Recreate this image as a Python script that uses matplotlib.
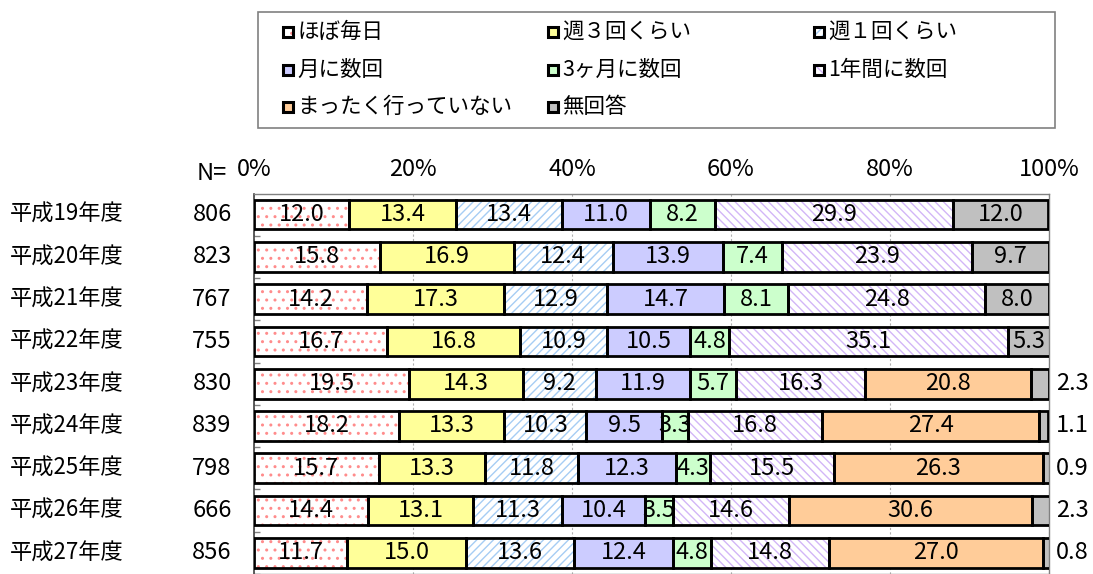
import numpy as np
import matplotlib
matplotlib.use('Agg')
import matplotlib.pyplot as plt
from matplotlib.patches import Rectangle

# データ
years = ['平成19年度', '平成20年度', '平成21年度', '平成22年度', '平成23年度',
         '平成24年度', '平成25年度', '平成26年度', '平成27年度']
n_values = [806, 823, 767, 755, 830, 839, 798, 666, 856]

categories = ['ほぼ毎日', '週３回くらい', '週１回くらい', '月に数回', '3ヶ月に数回',
              '1年間に数回', 'まったく行っていない', '無回答']
daily = [12.0, 15.8, 14.2, 16.7, 19.5, 18.2, 15.7, 14.4, 11.7]
week3 = [13.4, 16.9, 17.3, 16.8, 14.3, 13.3, 13.3, 13.1, 15.0]
week1 = [13.4, 12.4, 12.9, 10.9, 9.2, 10.3, 11.8, 11.3, 13.6]
monthly = [11.0, 13.9, 14.7, 10.5, 11.9, 9.5, 12.3, 10.4, 12.4]
quarterly = [8.2, 7.4, 8.1, 4.8, 5.7, 3.3, 4.3, 3.5, 4.8]
yearly = [29.9, 23.9, 24.8, 35.1, 16.3, 16.8, 15.5, 14.6, 14.8]
never = [np.nan, np.nan, np.nan, np.nan, 20.8, 27.4, 26.3, 30.6, 27.0]
no_answer = [12.0, 9.7, 8.0, 5.3, 2.3, 1.1, 0.9, 2.3, 0.8]

series = [daily, week3, week1, monthly, quarterly, yearly, never, no_answer]
tick_vals = [0, 20, 40, 60, 80, 100]

# 塗り (fill, hatch, hatch colour)
styles = [
    ('white', '..', '#ff8c8c'),
    ('#ffff99', None, None),
    ('white', '////', '#a6cdf4'),
    ('#ccccff', None, None),
    ('#ccffcc', None, None),
    ('white', '\\\\\\\\', '#d2b6f7'),
    ('#ffcc99', None, None),
    ('#c0c0c0', None, None),
]

NUM_FONT = ['Noto Sans CJK JP', 'DejaVu Sans']
JP_FONT = ['Noto Sans CJK JP', 'DejaVu Sans']
plt.rcParams['hatch.linewidth'] = 1.0

W, H = 1093, 574
fig = plt.figure(figsize=(W / 100, H / 100), dpi=100)


def fx(px):
    return px / W


def fy(py):
    return 1 - py / H


ax = fig.add_axes([fx(254), 0, fx(1049) - fx(254), fy(194)])
y = np.arange(len(years))
bar_h = 0.70
left = np.zeros(len(years))

for vals, (fill, hatch, hcol) in zip(series, styles):
    vals = np.array(vals, dtype=float)
    ok = ~np.isnan(vals)
    v = np.where(ok, vals, 0)
    if hatch:
        ax.barh(y[ok], v[ok], left=left[ok], height=bar_h, color=fill,
                hatch=hatch, edgecolor=hcol, linewidth=0, zorder=2)
    else:
        ax.barh(y[ok], v[ok], left=left[ok], height=bar_h, color=fill,
                linewidth=0, zorder=2)
    ax.barh(y[ok], v[ok], left=left[ok], height=bar_h, fill=False,
            edgecolor='black', linewidth=2.0, zorder=3)
    left = left + v

# 値ラベル
for i in range(len(years)):
    pos = 0.0
    for k, vals in enumerate(series):
        v = vals[i]
        if np.isnan(v):
            continue
        if k == len(series) - 1 and not np.isnan(never[i]):
            ax.text(100.9, i, f'{v:.1f}', ha='left', va='center',
                    fontsize=17, family=NUM_FONT, clip_on=False, zorder=5)
        else:
            ax.text(pos + v / 2, i, f'{v:.1f}', ha='center', va='center',
                    fontsize=17, family=NUM_FONT, zorder=5)
        pos += v

ax.set_xlim(0, 100)
ax.set_ylim(8.31, -0.486)
ax.xaxis.tick_top()
ax.set_xticks(tick_vals)
ax.set_xticklabels([f'{t}%' for t in tick_vals], family=NUM_FONT, fontsize=17)
ax.tick_params(axis='x', length=0, pad=9)
ax.set_yticks(np.arange(len(years)) + 0.5)
ax.set_yticklabels([])
ax.tick_params(axis='y', direction='in', length=4, color='#808080', width=1)
ax.grid(axis='x', color='#b0b0b0', linestyle=(0, (2, 2)), linewidth=0.8, zorder=0)
for s in ['top', 'right', 'bottom']:
    ax.spines[s].set_color('#808080')
    ax.spines[s].set_linewidth(1.0)
ax.spines['left'].set_color('#404040')
ax.spines['left'].set_linewidth(1.2)

# 年度と N
yt = ax.get_yaxis_transform()
for i, (yr, n) in enumerate(zip(years, n_values)):
    ax.text(-0.307, i, yr, transform=yt, ha='left', va='center',
            fontsize=16, family=JP_FONT, clip_on=False)
    ax.text(-0.028, i, str(n), transform=yt, ha='right', va='center',
            fontsize=17, family=NUM_FONT, clip_on=False)
fig.text(fx(197), fy(174), 'N=', ha='left', va='center', fontsize=17,
         family=NUM_FONT)

# 凡例 (Excel風の枠)
fig.add_artist(Rectangle((fx(258), fy(128)), fx(1055) - fx(258), fy(12) - fy(128),
                         transform=fig.transFigure, fill=False,
                         edgecolor='#808080', linewidth=1.2))
col_x = [288, 553, 819]
row_y = [32, 70, 107]
for idx, (name, (fill, hatch, hcol)) in enumerate(zip(categories, styles)):
    r, c = divmod(idx, 3)
    cx, cy = col_x[c], row_y[r]
    s = 10
    box = (fx(cx - s / 2), fy(cy + s / 2))
    if hatch:
        fig.add_artist(Rectangle(box, fx(s), fy(0) - fy(s),
                                 transform=fig.transFigure, facecolor=fill,
                                 hatch=hatch, edgecolor=hcol, linewidth=0))
    else:
        fig.add_artist(Rectangle(box, fx(s), fy(0) - fy(s),
                                 transform=fig.transFigure, facecolor=fill,
                                 linewidth=0))
    fig.add_artist(Rectangle(box, fx(s), fy(0) - fy(s),
                             transform=fig.transFigure, fill=False,
                             edgecolor='black', linewidth=2.2))
    fig.text(fx(cx + 9), fy(cy), name, ha='left', va='center', fontsize=15.5,
             family=JP_FONT)

fig.savefig('out.png', dpi=100)
